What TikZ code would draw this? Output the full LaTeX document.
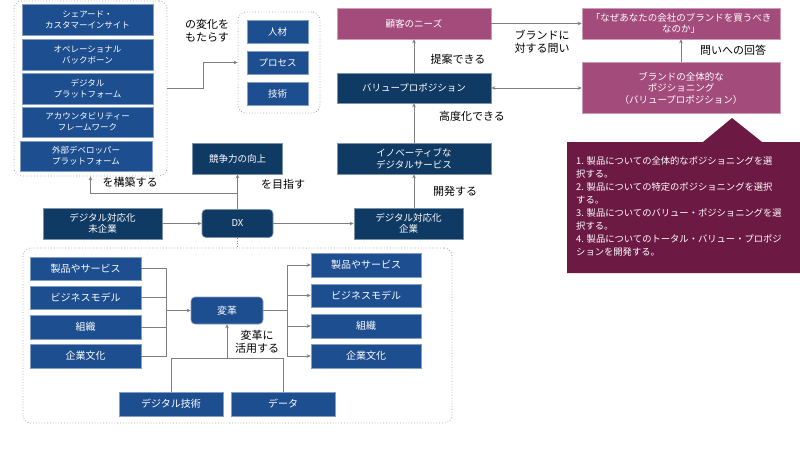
\documentclass[tikz,border=0pt]{standalone}
\usepackage{fontspec}
\setmainfont{Noto Sans CJK JP}
\usetikzlibrary{arrows.meta}
\definecolor{navy}{HTML}{0F3A64}
\definecolor{mblue}{HTML}{1D4E8F}
\definecolor{pinkb}{HTML}{A34C7B}
\definecolor{maroon}{HTML}{6C1A44}
\definecolor{lgray}{HTML}{7F7F7F}
\tikzset{
  bx/.style={fill=mblue, draw=mblue!55!white, line width=0.6pt, text=white, align=center, inner sep=0pt, font=\fontsize{9.5}{11.5}\selectfont},
  sbx/.style={bx, font=\fontsize{8.5}{11}\selectfont},
  lbx/.style={bx, font=\fontsize{10}{12}\selectfont},
  nv/.style={bx, fill=navy, draw=navy!55!white},
  pk/.style={bx, fill=pinkb, draw=pinkb!55!white},
  rbx/.style={rounded corners=4pt},
  cont/.style={draw=gray!70, dotted, line width=0.8pt, rounded corners=8pt, inner sep=0pt},
  ln/.style={draw=lgray, line width=0.8pt},
  arr/.style={ln, -{Stealth[length=4pt,width=3.5pt]}},
  darr/.style={ln, {Stealth[length=4pt,width=3.5pt]}-{Stealth[length=4pt,width=3.5pt]}},
  lbl/.style={font=\fontsize{11}{13}\selectfont, align=center, inner sep=0pt, text=black},
}
\begin{document}
\begin{tikzpicture}[x=1pt,y=-1pt]
\useasboundingbox (0,0) rectangle (800,450);
\fill[white] (0,0) rectangle (800,450);
% top-left container
\node[cont, minimum width=153, minimum height=175] (c1) at (90.5,88.5) {};
\node[sbx, minimum width=131, minimum height=31] (t1) at (87.5,19.5) {シェアード・\\カスタマーインサイト};
\node[sbx, minimum width=131, minimum height=31] (t2) at (87.5,54.5) {オペレーショナル\\バックボーン};
\node[sbx, minimum width=131, minimum height=31] (t3) at (87.5,88.5) {デジタル\\プラットフォーム};
\node[sbx, minimum width=131, minimum height=30] (t4) at (87.5,122) {アカウンタビリティー\\フレームワーク};
\node[sbx, minimum width=132, minimum height=30] (t5) at (86,156) {外部デベロッパー\\プラットフォーム};
% top-middle container
\node[cont, minimum width=82, minimum height=101] (c2) at (279,62.5) {};
\node[bx, minimum width=61, minimum height=23] (p1) at (277.5,31.5) {人材};
\node[bx, minimum width=61, minimum height=23] (p2) at (277.5,62.5) {プロセス};
\node[bx, minimum width=61, minimum height=23] (p3) at (277.5,93.5) {技術};
\draw[arr] (c1.east) -- (203,88.5) |- (c2.west);
\node[lbl] (l1) at (207,31) {の変化を\\もたらす};
% DX row
\node[nv, minimum width=90, minimum height=31] (kyoso) at (237.5,158.5) {競争力の向上};
\node[nv, rbx, minimum width=71, minimum height=28] (dx) at (237.5,223.5) {DX};
\node[nv, minimum width=119, minimum height=31] (miki) at (102.5,223.5) {デジタル対応化\\未企業};
\node[nv, minimum width=109, minimum height=31] (kigyo) at (408.5,223.5) {デジタル対応化\\企業};
\draw[arr] (miki.east) -- (dx.west);
\draw[arr] (dx.east) -- (kigyo.west);
\draw[arr] (dx.north) -- (kyoso.south);
\coordinate (br) at (237.5,193);
\draw[arr] (br) -| (c1.south);
\node[lbl] (l2) at (130,182) {を構築する};
\node[lbl] (l3) at (283,184) {を目指す};
% bottom container
\node[cont, minimum width=429, minimum height=175] (c3) at (237.5,335.5) {};
\draw[ln, dotted] (dx.south) -- (dx.south |- c3.north);
\node[lbx, minimum width=111, minimum height=23] (L1) at (85.5,268.5) {製品やサービス};
\node[lbx, minimum width=111, minimum height=23] (L2) at (85.5,297.5) {ビジネスモデル};
\node[lbx, minimum width=111, minimum height=24] (L3) at (85.5,327) {組織};
\node[lbx, minimum width=111, minimum height=24] (L4) at (85.5,356) {企業文化};
\node[lbx, rbx, minimum width=72, minimum height=27] (hen) at (227,310.5) {変革};
\node[lbx, minimum width=110, minimum height=24] (R1) at (366,265) {製品やサービス};
\node[lbx, minimum width=110, minimum height=23] (R2) at (366,295.5) {ビジネスモデル};
\node[lbx, minimum width=110, minimum height=24] (R3) at (366,326) {組織};
\node[lbx, minimum width=110, minimum height=24] (R4) at (366,356) {企業文化};
\node[lbx, minimum width=104, minimum height=24] (gij) at (171,404) {デジタル技術};
\node[lbx, minimum width=104, minimum height=24] (dat) at (283,404) {データ};
\coordinate (jl) at (166,310.5);
\coordinate (jr) at (287,310.5);
\coordinate (jt) at (227,358);
\foreach \i in {L1,L2,L3,L4} {\draw[ln] (\i.east) -| (jl);}
\draw[arr] (jl) -- (hen.west);
\draw[ln] (hen.east) -- (jr);
\foreach \i in {R1,R2,R3,R4} {\draw[arr] (jr) |- (\i.west);}
\draw[ln] (gij.north) |- (dat.north |- jt) -- (dat.north);
\draw[arr] (jt) -- (hen.south);
\node[lbl] (l4) at (257,342) {変革に\\活用する};
% right side
\node[pk, minimum width=154, minimum height=31] (kok) at (414,23.5) {顧客のニーズ};
\node[pk, minimum width=198, minimum height=31] (naze) at (681,23.5) {「なぜあなたの会社のブランドを買うべき\\なのか」};
\node[nv, minimum width=154, minimum height=30] (val) at (414,88) {バリュープロポジション};
\node[pk, minimum width=198, minimum height=51] (brand) at (681,88) {ブランドの全体的な\\ポジショニング\\（バリュープロポジション）};
\node[nv, minimum width=154, minimum height=31] (inno) at (414,158.5) {イノベーティブな\\デジタルサービス};
\draw[arr] (kok.east) -- (naze.west);
\draw[arr] (val.north) -- (kok.south);
\draw[arr] (brand.north) -- (naze.south);
\draw[darr] (val.east) -- (brand.west);
\draw[arr] (inno.north) -- (val.south);
\draw[arr] (kigyo.north -| inno.south) -- (inno.south);
\node[lbl] (l5) at (542,42) {ブランドに\\対する問い};
\node[lbl] (l6) at (458,59) {提案できる};
\node[lbl] (l7) at (733,50) {問いへの回答};
\node[lbl] (l8) at (472,116) {高度化できる};
\node[lbl] (l9) at (455,191) {開発する};
% callout
\fill[maroon] (567,142) -- (703,142) -- (732,118) -- (762,142) -- (800,142) -- (800,273) -- (567,273) -- cycle;
\node[anchor=north west, inner sep=0pt, text=white, align=left, font=\fontsize{9.3}{13}\selectfont] (co) at (576,156)
{1. 製品についての全体的なポジショニングを選\\択する。\\2. 製品についての特定のポジショニングを選択\\する。\\3. 製品についてのバリュー・ポジショニングを選\\択する。\\4. 製品についてのトータル・バリュー・プロポジ\\ションを開発する。};
\end{tikzpicture}
\end{document}
